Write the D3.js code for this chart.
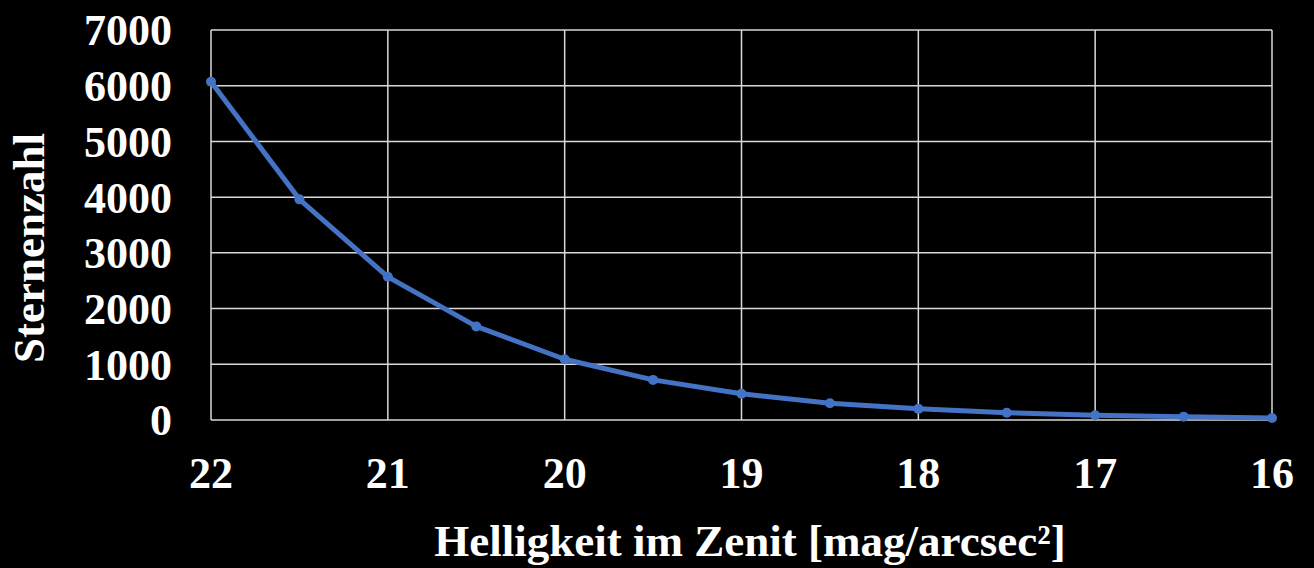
<!DOCTYPE html>
<html>
<head>
<meta charset="utf-8">
<script src="https://cdn.jsdelivr.net/npm/d3@7"></script>
<style>
  html, body { margin: 0; padding: 0; background: #000; }
  svg { display: block; }
  text { font-family: "Liberation Serif", "Times New Roman", serif; font-weight: bold; fill: #fff; }
</style>
</head>
<body>
<svg width="1314" height="568"></svg>
<script>
// Helligkeit (mag/arcsec²) und Sternenzahl
var magnitudes = [22, 21.5, 21, 20.5, 20, 19.5, 19, 18.5, 18, 17.5, 17, 16.5, 16];
var starCounts = [6070, 3960, 2570, 1680, 1090, 720, 470, 300, 200, 130, 85, 60, 36];
var xTicks = [22, 21, 20, 19, 18, 17, 16];
var yTicks = [0, 1000, 2000, 3000, 4000, 5000, 6000, 7000];
var xTitle = "Helligkeit im Zenit [mag/arcsec²]";
var yTitle = "Sternenzahl";

var svg = d3.select("svg");
var plotLeft = 211, plotRight = 1272, plotTop = 30, plotBottom = 420;

var x = d3.scaleLinear().domain([22, 16]).range([plotLeft, plotRight]);
var y = d3.scaleLinear().domain([0, 7000]).range([plotBottom, plotTop]);

var grid = svg.append("g").attr("stroke", "#d9d9d9").attr("stroke-width", 1.5);
grid.selectAll("line.h").data(yTicks).join("line")
    .attr("class", "h")
    .attr("x1", plotLeft).attr("x2", plotRight)
    .attr("y1", function (d) { return y(d); })
    .attr("y2", function (d) { return y(d); });
grid.selectAll("line.v").data(xTicks).join("line")
    .attr("class", "v")
    .attr("y1", plotTop).attr("y2", plotBottom)
    .attr("x1", function (d) { return x(d); })
    .attr("x2", function (d) { return x(d); });

// tick labels
svg.append("g").selectAll("text").data(yTicks).join("text")
    .attr("x", 172)
    .attr("y", function (d) { return y(d); })
    .attr("dy", "0.35em")
    .attr("text-anchor", "end")
    .style("font-size", "44px")
    .text(function (d) { return d; });

svg.append("g").selectAll("text").data(xTicks).join("text")
    .attr("x", function (d) { return x(d); })
    .attr("y", 488)
    .attr("text-anchor", "middle")
    .style("font-size", "44px")
    .text(function (d) { return d; });

// axis titles
svg.append("text")
    .attr("x", 750).attr("y", 556)
    .attr("text-anchor", "middle")
    .style("font-size", "45px")
    .text(xTitle);

svg.append("text")
    .attr("transform", "translate(44,248) rotate(-90)")
    .attr("text-anchor", "middle")
    .style("font-size", "45px")
    .text(yTitle);

// series
var pts = magnitudes.map(function (m, i) { return [m, starCounts[i]]; });
var line = d3.line()
    .x(function (d) { return x(d[0]); })
    .y(function (d) { return y(d[1]); });

svg.append("path")
    .datum(pts)
    .attr("fill", "none")
    .attr("stroke", "#4472C4")
    .attr("stroke-width", 5)
    .attr("stroke-linejoin", "round")
    .attr("d", line);

svg.append("g").selectAll("circle").data(pts).join("circle")
    .attr("cx", function (d) { return x(d[0]); })
    .attr("cy", function (d) { return y(d[1]); })
    .attr("r", 5)
    .attr("fill", "#4472C4");
</script>
</body>
</html>
